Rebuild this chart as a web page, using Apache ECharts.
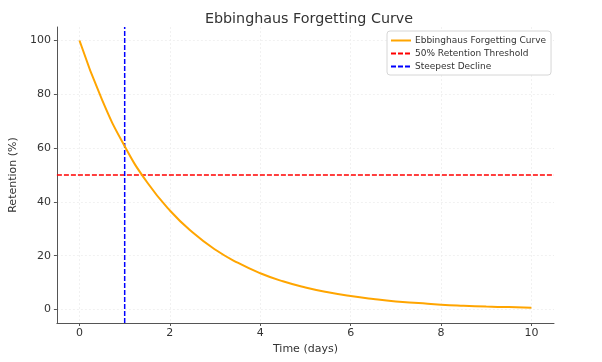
<!DOCTYPE html>
<html>
<head>
<meta charset="utf-8">
<script src="https://cdn.jsdelivr.net/npm/echarts@6/dist/echarts.min.js"></script>
<style>html,body{margin:0;padding:0;background:#fff}#c{width:602px;height:362px}</style>
</head>
<body>
<div id="c"></div>
<script>
// Data
var days = [0, 0.5, 1, 1.5, 2, 2.5, 3, 3.5, 4, 4.5, 5, 5.5, 6, 6.5, 7, 7.5, 8, 8.5, 9, 9.5, 10];
var retention = [100, 77.9, 60.7, 47.2, 36.8, 28.7, 22.3, 17.4, 13.5, 10.5, 8.2, 6.4, 5.0, 3.9, 3.0, 2.4, 1.8, 1.4, 1.1, 0.9, 0.7];
var thresholdValue = 50;
var steepestDay = 1;
var xTicks = [0, 2, 4, 6, 8, 10];
var yTicks = [0, 20, 40, 60, 80, 100];
var xRange = [-0.5, 10.5];
var yRange = [-5, 105];

var font = 'DejaVu Sans';
var chart = echarts.init(document.getElementById('c'));
var curve = days.map(function (d, i) { return [d, retention[i]]; });
chart.setOption({
  animation: false,
  backgroundColor: '#fff',
  textStyle: { fontFamily: font },
  title: {
    text: 'Ebbinghaus Forgetting Curve',
    left: 304, textAlign: 'center', top: 7,
    textStyle: { fontFamily: font, fontSize: 14.3, fontWeight: 'normal', color: '#333' }
  },
  legend: {
    orient: 'vertical', left: 387, top: 31,
    align: 'left',
    itemWidth: 20, itemHeight: 8, itemGap: 4,
    padding: [5, 5, 4, 3],
    borderColor: '#d6d6d6', borderWidth: 1, borderRadius: 3,
    backgroundColor: '#fff',
    itemStyle: { opacity: 0 },
    textStyle: { fontFamily: font, fontSize: 9, color: '#333', padding: [0, 0, 0, -1] },
    data: ['Ebbinghaus Forgetting Curve', '50% Retention Threshold', 'Steepest Decline']
  },
  grid: { left: 55.5, right: 48, top: 27, bottom: 39, containLabel: false },
  xAxis: {
    type: 'value', min: xRange[0], max: xRange[1],
    name: 'Time (days)', nameLocation: 'middle', nameGap: 19,
    nameTextStyle: { fontFamily: font, fontSize: 11, color: '#333' },
    axisLine: { onZero: false, lineStyle: { color: '#555', width: 1 } },
    axisTick: { customValues: xTicks, length: 3, lineStyle: { color: '#555' } },
    axisLabel: { customValues: xTicks, fontFamily: font, fontSize: 11, color: '#333', margin: 5 },
    splitLine: { show: true, customValues: xTicks, lineStyle: { color: '#eeeeee', type: [2, 2], width: 0.8 } }
  },
  yAxis: {
    type: 'value', min: yRange[0], max: yRange[1],
    name: 'Retention (%)', nameLocation: 'middle', nameGap: 27, nameRotate: 90,
    nameTextStyle: { fontFamily: font, fontSize: 11, color: '#333' },
    axisLine: { show: true, onZero: false, lineStyle: { color: '#555', width: 1 } },
    axisTick: { show: true, customValues: yTicks, length: 3, lineStyle: { color: '#555' } },
    axisLabel: { customValues: yTicks, fontFamily: font, fontSize: 11, color: '#333', margin: 6 },
    splitLine: { show: true, customValues: yTicks, lineStyle: { color: '#eeeeee', type: [2, 2], width: 0.8 } }
  },
  series: [
    {
      name: 'Ebbinghaus Forgetting Curve', type: 'line', smooth: true,
      symbol: 'none', showSymbol: false,
      data: curve,
      lineStyle: { color: '#FFA500', width: 2 }, itemStyle: { color: '#FFA500' }, z: 3
    },
    {
      name: '50% Retention Threshold', type: 'line', symbol: 'none',
      data: [[xRange[0], thresholdValue], [xRange[1], thresholdValue]],
      lineStyle: { color: '#FF0000', width: 1.5, type: [5, 2] }, itemStyle: { color: '#FF0000' }, z: 2
    },
    {
      name: 'Steepest Decline', type: 'line', symbol: 'none',
      data: [[steepestDay, yRange[0]], [steepestDay, yRange[1]]],
      lineStyle: { color: '#0000FF', width: 1.5, type: [5, 2] }, itemStyle: { color: '#0000FF' }, z: 2
    }
  ]
});
</script>
</body>
</html>
